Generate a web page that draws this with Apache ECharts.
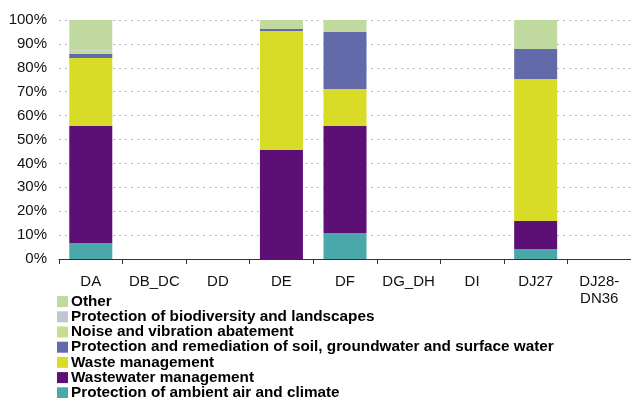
<!DOCTYPE html>
<html><head><meta charset="utf-8">
<script src="https://cdn.jsdelivr.net/npm/echarts@6/dist/echarts.min.js"></script>
<style>html,body{margin:0;padding:0;background:#fff}#c{width:631px;height:398px}</style>
</head><body><div id="c"></div>
<script>
var categories = ['DA','DB_DC','DD','DE','DF','DG_DH','DI','DJ27','DJ28-DN36'];
var air        = [6.7, 0, 0, 0,    10.9, 0, 0, 4.2,  0];
var wastewater = [48.9,0, 0, 45.6, 44.7, 0, 0, 11.7, 0];
var waste      = [28.5,0, 0, 49.8, 15.5, 0, 0, 59.4, 0];
var soil       = [1.7, 0, 0, 0.8,  23.9, 0, 0, 12.6, 0];
var noise      = [1.4, 0, 0, 0,    0,    0, 0, 0,    0];
var biodiv     = [0.3, 0, 0, 0,    0,    0, 0, 0,    0];
var other      = [12.5,0, 0, 3.8,  5.0,  0, 0, 12.1, 0];
var yTicks = [0,10,20,30,40,50,60,70,80,90,100];

var seriesDefs = [
  ['Protection of ambient air and climate', air, '#4aa8aa'],
  ['Wastewater management', wastewater, '#5c0f75'],
  ['Waste management', waste, '#d9dc26'],
  ['Protection and remediation of soil, groundwater and surface water', soil, '#636aa9'],
  ['Noise and vibration abatement', noise, '#c6dd8e'],
  ['Protection of biodiversity and landscapes', biodiv, '#c3c5d3'],
  ['Other', other, '#bfd99e']
];
var chart = echarts.init(document.getElementById('c'), null, {renderer:'canvas'});
chart.setOption({
  animation:false,
  textStyle:{fontFamily:'Liberation Sans, Arial, sans-serif'},
  grid:{left:59, right:-2, top:20, bottom:139, containLabel:false},
  legend:{
    orient:'vertical', left:57, top:294, height:110, padding:0,
    itemWidth:11, itemHeight:11, itemGap:0,
    icon:'rect',
    data: seriesDefs.map(function(s){return s[0];}).reverse(),
    textStyle:{fontSize:15.3, fontWeight:'bold', color:'#000', padding:[0,0,0,-2], lineHeight:15.2},
    selectedMode:false
  },
  xAxis:{
    type:'category', data:categories,
    axisLine:{lineStyle:{color:'#333', width:1}},
    axisTick:{show:true, length:5, lineStyle:{color:'#333'}},
    axisLabel:{color:'#111', fontSize:15, margin:14, interval:0, lineHeight:17,
      formatter:function(v){return v.replace('-', '-\n');}}
  },
  yAxis:{
    type:'value', min:0, max:100, interval:10,
    axisLine:{show:false}, axisTick:{show:false},
    axisLabel:{color:'#111', fontSize:15, margin:12, formatter:function(v){return yTicks.indexOf(v)>=0? v+'%':'';}},
    splitLine:{lineStyle:{color:'#bbb', type:[2,4]}}
  },
  series: seriesDefs.map(function(s){
    return {name:s[0], type:'bar', stack:'t', data:s[1], barWidth:43,
      itemStyle:{color:s[2]}};
  })
});
</script></body></html>
